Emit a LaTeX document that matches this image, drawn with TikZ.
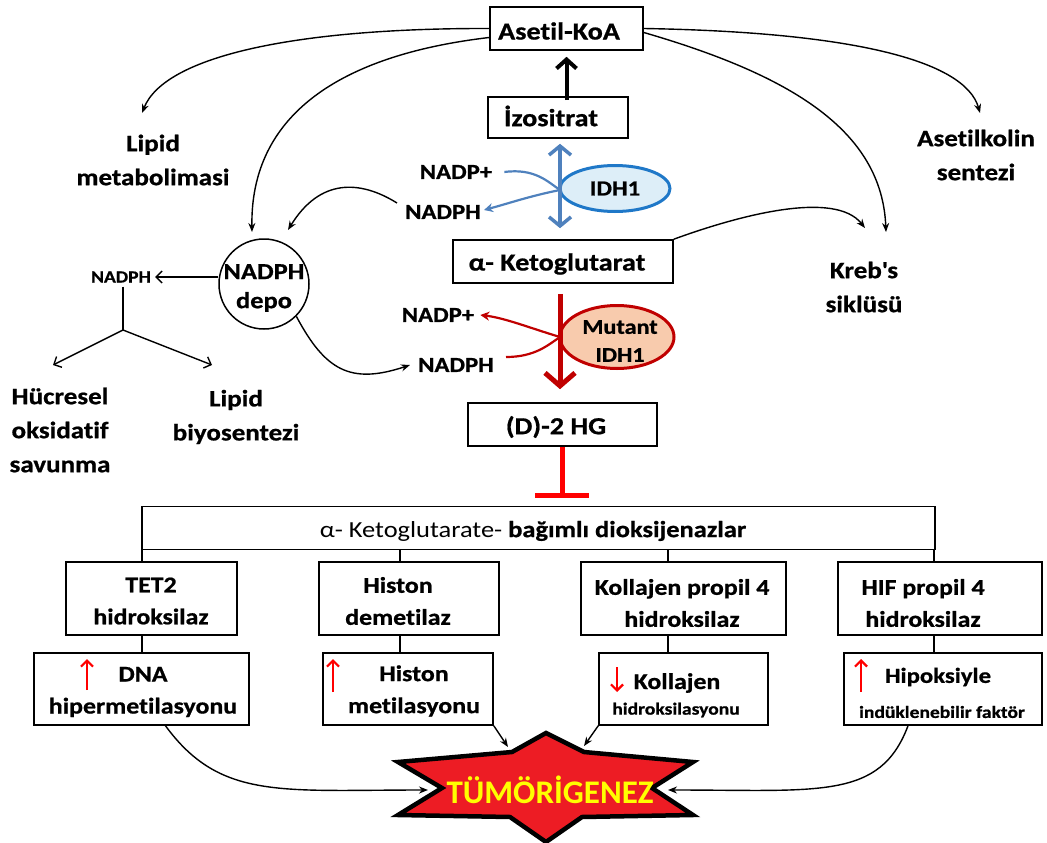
\documentclass[tikz,border=0pt]{standalone}
\usepackage{fontspec}
\setmainfont{Carlito}[FakeStretch=1.15, Ligatures=NoCommon, BoldFeatures={FakeBold=0.8}]
\newfontfamily\starfont{Carlito}[Ligatures=NoCommon]
\usetikzlibrary{arrows.meta,shapes.geometric}
\definecolor{blueA}{HTML}{4F81BD}
\definecolor{blueB}{HTML}{1F78C8}
\definecolor{blueF}{HTML}{DDEEF8}
\definecolor{redD}{HTML}{C00000}
\definecolor{peach}{HTML}{F8CBAD}
\definecolor{starred}{HTML}{ED1C24}
\definecolor{staryel}{HTML}{FFFF00}
\newcommand\setfs[2]{\fontsize{#1}{#2}\selectfont}
\begin{document}
\begin{tikzpicture}[x=1pt,y=-1pt,
  every node/.style={font=\bfseries\setfs{23}{34}, align=center, inner sep=0pt},
  box/.style={draw, line width=1.6pt, rectangle},
  curv/.style={line width=1.4pt, -{Stealth[length=9pt,width=7pt]}},
  arr2/.style={line width=1.4pt, -{Straight Barb[length=6pt,width=12pt]}},
  lbl/.style={font=\bfseries\setfs{23.5}{34}},
  nad/.style={font=\bfseries\setfs{21.5}{24}},
  sml/.style={font=\bfseries\setfs{17}{20}},
  bxt/.style={font=\bfseries\setfs{22.5}{32}},
  ttl/.style={font=\bfseries\setfs{24.5}{26}},
  uparr/.style={red, line width=2.2pt, -{Straight Barb[length=6pt,width=12pt]}},
]
\useasboundingbox (0,0) rectangle (1047,843);

% ---- top chain
\node[box, minimum width=153, minimum height=43] (acoa) at (566.5,28.5) {};
\node[ttl] (acoat) at (559,31) {Asetil-KoA};
\node[box, minimum width=140, minimum height=41] (izo) at (558,117.5) {};
\node[ttl] (izot) at (551,116) {İzositrat};
\node[box, minimum width=220, minimum height=43] (akg) at (563,261.5) {};
\node[ttl] (akgt) at (557,264) {α- Ketoglutarat};
\node[box, minimum width=189, minimum height=43] (dhg) at (562.5,424.5) {};
\node[ttl] (dhgt) at (556,427) {(D)-2 HG};

\draw[line width=4pt, -{Straight Barb[length=9pt,width=20pt]}] ([yshift=-4pt]izo.north -| acoa.south) -- ([yshift=-6pt]acoa.south);

% ---- IDH1
\node[ellipse, draw=blueB, fill=blueF, line width=3pt, minimum width=110, minimum height=46] (idh) at (615,188.5) {};
\node[nad] (idht) at (idh) {IDH1};
\coordinate (jb) at (560,190);
\node[nad] (np1) at (456,172) {NADP+};
\node[nad] (nh1) at (443,212) {NADPH};
\draw[blueA, line width=3.5pt, {Straight Barb[length=9pt,width=22pt]}-{Straight Barb[length=9pt,width=22pt]}]
  ([yshift=-5pt]izo.south -| jb) -- ([yshift=11pt]akg.north -| jb);
\draw[blueA, line width=2.2pt] ([xshift=12pt]np1.east) .. controls (535,168) and (548,182) .. (jb);
\draw[blueA, line width=2.2pt, -{Stealth[length=9pt,width=9pt]}] (jb) .. controls (530,196) and (510,203) .. ([xshift=3pt,yshift=2pt]nh1.east);

% ---- mutant IDH1
\node[ellipse, draw=redD, fill=peach, line width=3pt, minimum width=114, minimum height=63] (midh) at (617,337) {};
\node[nad, font=\bfseries\setfs{21}{28}] (midht) at (620,341) {Mutant\\IDH1};
\coordinate (jr) at (560,337);
\node[nad] (np2) at (438,315) {NADP+};
\node[nad] (nh2) at (456,365) {NADPH};
\draw[redD, line width=5pt, -{Straight Barb[length=13pt,width=30pt]}]
  ([yshift=-10pt]akg.south -| jr) -- ([yshift=13pt]dhg.north -| jr);
\draw[redD, line width=2.2pt, -{Stealth[length=9pt,width=9pt]}] (jr) .. controls (530,328) and (505,318) .. ([xshift=6pt]np2.east);
\draw[redD, line width=2.2pt] ([xshift=12pt,yshift=8pt]nh2.east) .. controls (535,357) and (548,345) .. (jr);

% ---- inhibition
\coordinate (inh) at (562,495);
\draw[red, line width=5pt] (dhg.south -| inh) -- (inh);
\draw[red, line width=5pt] ([xshift=-27pt]inh) -- ([xshift=27pt]inh);

% ---- side labels
\node[lbl] (lipm) at (153,160) {Lipid\\metabolimasi};
\node[lbl] (asch) at (976,155) {Asetilkolin\\sentezi};
\node[lbl] (kreb) at (864,287) {Kreb\textquotesingle s\\siklüsü};
\node[lbl] (huc) at (60,430) {Hücresel\\oksidatif\\savunma};
\node[lbl] (lbs) at (236,417) {Lipid\\biyosentezi};

\node[circle, draw, line width=1.5pt, minimum size=90] (dep) at (264,284) {};
\node[lbl, font=\bfseries\setfs{23}{29}] (dept) at (264,288) {NADPH\\depo};
\node[sml] (nh0) at (121,277) {NADPH};

\coordinate (tLm) at (142,113);
\coordinate (tDa) at (252,232);
\coordinate (tDb) at (288,230);
\coordinate (tAs) at (980,113);
\coordinate (tKa) at (886,232);
\coordinate (tKb) at (865,228);
\draw[curv] (acoa.west) .. controls (300,28) and (165,55) .. (tLm);
\draw[curv] ([yshift=-9pt]acoa.west) .. controls (340,55) and (250,115) .. (tDa);
\draw[curv] ([xshift=-8pt,yshift=9pt]nh1.west) .. controls (360,180) and (320,178) .. (tDb);
\draw[curv] (acoa.east) .. controls (850,32) and (965,60) .. (tAs);
\draw[curv] ([yshift=-4pt]acoa.east) .. controls (790,75) and (882,130) .. (tKa);
\draw[curv] (akg.north east) .. controls (740,215) and (835,190) .. (tKb);

\coordinate (br) at (123,330);
\draw[arr2] (dep.west |- nh0.east) -- ([xshift=4pt]nh0.east);
\draw[line width=1.4pt] ([yshift=-4pt]nh0.south -| br) -- (br);
\draw[arr2] (br) -- (53,365);
\draw[arr2] (br) -- (212,365);
\draw[curv] (dep.-45) .. controls (325,370) and (350,385) .. ([xshift=-8pt]nh2.west);

% ---- dioxygenases
\node[box, minimum width=793, minimum height=43] (dio) at (538.5,528) {};
\node[font=\bfseries\setfs{23}{26}] (diot) at (533,531) {{\mdseries α- Ketoglutarate-} bağımlı dioksijenazlar};

\node[box, minimum width=171, minimum height=73] (tet) at (151.5,598.5) {};
\node[box, minimum width=180, minimum height=73] (hdm) at (409,598.5) {};
\node[box, minimum width=205, minimum height=73] (kol) at (683.5,598.5) {};
\node[box, minimum width=204, minimum height=73] (hif) at (940,598.5) {};
\node[box, minimum width=215, minimum height=72] (dna) at (141.5,689) {};
\node[box, minimum width=170, minimum height=72] (hme) at (408,689) {};
\node[box, minimum width=169, minimum height=72] (kho) at (683.5,689) {};
\node[box, minimum width=198, minimum height=72] (hip) at (943,689) {};

\coordinate (c1) at (142,0);
\coordinate (c2) at (400,0);
\coordinate (c3) at (668,0);
\coordinate (c4) at (934,0);
\foreach \c/\a/\b in {c1/tet/dna, c2/hdm/hme, c3/kol/kho, c4/hif/hip}{
  \draw[line width=1.6pt] (dio.south -| \c) -- (\a.north -| \c);
  \draw[line width=1.6pt] (\a.south -| \c) -- (\b.north -| \c);
}

\node[bxt] (t1) at (151,601) {TET2\\hidroksilaz};
\node[bxt] (t2) at (398,601) {Histon\\demetilaz};
\node[bxt] (t3) at (682,603) {Kollajen propil 4\\hidroksilaz};
\node[bxt] (t4) at (923,603) {HIF propil 4\\hidroksilaz};

\node[bxt] (b1) at (143,692) {DNA\\hipermetilasyonu};
\node[bxt] (b2) at (414,691) {Histon\\metilasyonu};
\node[bxt] (b3) at (677,683) {Kollajen};
\node[sml] (b3b) at (676,710) {hidroksilasyonu};
\node[nad] (b4) at (938,677) {Hipoksiyle};
\node[sml] (b4b) at (942,712) {indüklenebilir faktör};

\draw[uparr] (87,690) -- (87,659);
\draw[uparr] (333,692) -- (333,659);
\draw[uparr] (617,667) -- (617,692);
\draw[uparr] (861,692) -- (861,659);

% ---- star
\draw[line width=4.5pt, fill=starred, line join=miter] (546,733) -- (584,752) -- (693,762) -- (652,788) -- (693,815) -- (582,817)
  -- (546,842) -- (510,817) -- (398,815) -- (442,788) -- (398,762) -- (512,752) -- cycle;
\node[font=\starfont\bfseries\setfs{33}{36}, text=staryel] (tum) at (550,790) {TÜMÖRİGENEZ};

\coordinate (sL) at (428,790);
\coordinate (sR) at (668,790);
\coordinate (sT1) at (508,747);
\coordinate (sT2) at (584,746);
\draw[curv] ([xshift=24pt]dna.south) .. controls (220,800) and (280,790) .. (sL);
\draw[curv] (hme.south east) -- (sT1);
\draw[curv] (kho.south west) -- (sT2);
\draw[curv] ([xshift=-35pt]hip.south) .. controls (880,800) and (820,790) .. (sR);
\end{tikzpicture}
\end{document}
